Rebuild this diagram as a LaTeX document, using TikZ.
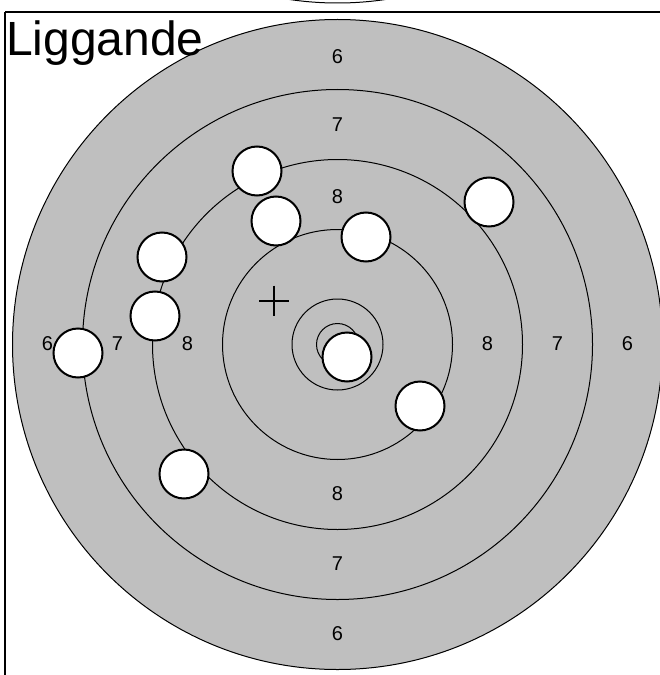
\documentclass[tikz,border=0pt]{standalone}
\usepackage{fontspec}
\setmainfont{Liberation Sans}
\definecolor{targetgray}{gray}{0.75}
\tikzset{
  ring/.style={draw=black,line width=1bp},
  disc/.style={ring,fill=targetgray},
  frameline/.style={draw=black,line width=1.2bp},
  shot/.style={draw=black,fill=white,line width=2bp},
  crossline/.style={draw=black,line width=1.2bp},
  score/.style={inner sep=0pt,font=\fontsize{20bp}{22bp}\selectfont},
  heading/.style={inner sep=0pt,anchor=base west,font=\fontsize{48bp}{50bp}\selectfont}
}
\begin{document}
\begin{tikzpicture}[x=1bp,y=-1bp]
\useasboundingbox (0,0) rectangle (660,675);
\clip (0,0) rectangle (660,675);
\fill[white] (0,0) rectangle (660,675);
\draw[ring] (337.5,-322) circle[radius=325];
\draw[frameline] (5,12) -- (660,12);
\draw[frameline] (5,12) -- (5,675);
\path[disc] (337.5,344.5) circle[radius=325];
\foreach \r in {255,185,115,45.5,21}
  \draw[ring] (337.5,344.5) circle[radius=\r];
\node[heading] (title) at (6,56) {Liggande};
\node[score] (t6) at (337.5,57) {6};
\node[score] (t7) at (337.5,125) {7};
\node[score] (t8) at (337.5,197) {8};
\node[score] (l6) at (47.5,344) {6};
\node[score] (l7) at (117.5,344) {7};
\node[score] (l8) at (187.5,344) {8};
\node[score] (r8) at (487.5,344) {8};
\node[score] (r7) at (557.5,344) {7};
\node[score] (r6) at (627.5,344) {6};
\node[score] (b8) at (337.5,494) {8};
\node[score] (b7) at (337.5,564) {7};
\node[score] (b6) at (337.5,634) {6};
\draw[crossline] (259,301) -- (289,301);
\draw[crossline] (274,285.5) -- (274,316);
\foreach \x/\y in {257/171,276/221,366/237,489/202,162/257,155/316,78/353,420/406,184/474,347/357}
  \draw[shot] (\x,\y) circle[radius=24.5];
\end{tikzpicture}
\end{document}
